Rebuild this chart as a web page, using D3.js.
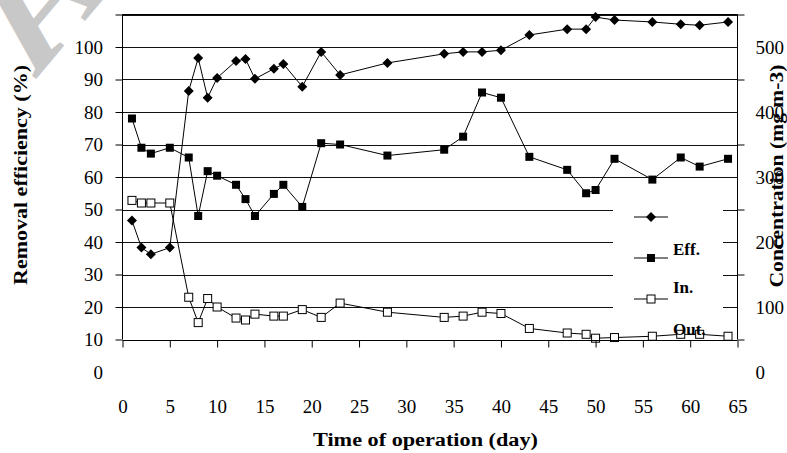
<!DOCTYPE html>
<html>
<head>
<meta charset="utf-8">
<script src="https://cdn.jsdelivr.net/npm/d3@7"></script>
<style>
  body { margin: 0; background: #fff; }
  svg { display: block; }
  text { font-family: "Liberation Serif", "Times New Roman", serif; fill: #000; }
</style>
</head>
<body>
<script>
// ---- data ----
const days = [1,2,3,5,7,8,9,10,12,13,14,16,17,19,21,23,28,34,36,38,40,43,47,49,50,52,56,59,61,64];
const effPct = [46.6,38.3,36.2,38.3,86.5,96.6,84.4,90.5,95.7,96.3,90.2,93.3,94.8,87.8,98.5,91.4,95.1,97.9,98.5,98.5,99.0,103.7,105.5,105.5,109.2,108.3,107.7,107.0,106.7,107.7];
const inConc = [390,345,336,345,330,240,309,302,288,266,240,274,288,254,352,350,333,342,362,430,422,331,311,275,280,328,296,330,316,328];
const outConc = [264,260,260,260,115,76,113,100,83,80,89,86,86,96,84,106,92,84,86,92,90,67,60,58,52,53,55,58,58,55];

const xTicks = [0,5,10,15,20,25,30,35,40,45,50,55,60,65];
const leftTickMarks = [10,20,30,40,50,60,70,80,90,100,110];
const leftLabels = [0,10,20,30,40,50,60,70,80,90,100];
const rightTickMarks = [50,150,250,350,450,550];
const rightLabels = [0,100,200,300,400,500];
const legendLabels = ["Eff.","In.","Out."];

const W = 787, H = 453;
const svg = d3.select("body").append("svg").attr("width", W).attr("height", H);
svg.append("rect").attr("width", W).attr("height", H).attr("fill", "#fff");

// watermark letter (bleed-through, mirrored)
svg.append("text")
  .attr("transform", "translate(105,-3) rotate(-50) scale(-1,1)")
  .attr("font-size", 150).attr("font-weight", "bold")
  .style("fill", "#c8c8c8")
  .text("A");

const x = d3.scaleLinear().domain([0,65]).range([122.5,737.5]);
const yL = d3.scaleLinear().domain([0,110]).range([372,14.5]);
const yR = d3.scaleLinear().domain([0,550]).range([372,14.5]);
const plotTop = yL(110), plotBot = yL(10);

// gridlines
svg.append("g").selectAll("line").data(leftTickMarks.filter(v => v > 10)).join("line")
  .attr("x1", x(0)).attr("x2", x(65))
  .attr("y1", d => Math.round(yL(d)) + 0.5).attr("y2", d => Math.round(yL(d)) + 0.5)
  .attr("stroke", "#111").attr("stroke-width", 1);

// legend background
svg.append("rect").attr("x", 613).attr("y", 195).attr("width", 110).attr("height", 138).attr("fill", "#fff");

// series
const lineL = d3.line().x((d,i) => x(days[i])).y(d => yL(d));
const lineR = d3.line().x((d,i) => x(days[i])).y(d => yR(d));
const diamond = s => `M0,${-s}L${s},0L0,${s}L${-s},0Z`;

svg.append("path").datum(effPct).attr("d", lineL).attr("fill","none").attr("stroke","#000").attr("stroke-width",1);
svg.append("path").datum(inConc).attr("d", lineR).attr("fill","none").attr("stroke","#000").attr("stroke-width",1);
svg.append("path").datum(outConc).attr("d", lineR).attr("fill","none").attr("stroke","#000").attr("stroke-width",1);

svg.append("g").selectAll("path").data(effPct).join("path")
  .attr("transform", (d,i) => `translate(${x(days[i])},${yL(d)})`)
  .attr("d", diamond(5)).attr("fill", "#000");
svg.append("g").selectAll("rect").data(inConc).join("rect")
  .attr("x", (d,i) => x(days[i]) - 4).attr("y", d => yR(d) - 4)
  .attr("width", 8).attr("height", 8).attr("fill", "#000");
svg.append("g").selectAll("rect").data(outConc).join("rect")
  .attr("x", (d,i) => x(days[i]) - 4).attr("y", d => yR(d) - 4)
  .attr("width", 8).attr("height", 8).attr("fill", "#fff").attr("stroke", "#000").attr("stroke-width", 1);

// legend
const lg = svg.append("g");
const legY = [217, 258, 299];
lg.selectAll("line").data(legY).join("line")
  .attr("x1", 634).attr("x2", 668).attr("y1", d => d).attr("y2", d => d)
  .attr("stroke", "#000");
lg.append("path").attr("transform", `translate(651,${legY[0]})`).attr("d", diamond(5)).attr("fill", "#000");
lg.append("rect").attr("x", 647).attr("y", legY[1]-4).attr("width", 8).attr("height", 8).attr("fill", "#000");
lg.append("rect").attr("x", 647).attr("y", legY[2]-4).attr("width", 8).attr("height", 8).attr("fill", "#fff").attr("stroke", "#000");
lg.selectAll("text").data(legendLabels).join("text")
  .attr("x", 673).attr("y", (d,i) => [255, 293, 335][i])
  .attr("font-size", 17).attr("font-weight", "bold").text(d => d);

// frame
svg.append("line").attr("x1", x(0)).attr("x2", x(65)).attr("y1", plotTop).attr("y2", plotTop).attr("stroke", "#000");
svg.append("line").attr("x1", x(65)).attr("x2", x(65)).attr("y1", plotTop).attr("y2", plotBot).attr("stroke", "#000");

// axes
const tickStyle = g => { g.select(".domain").remove(); g.selectAll("line").attr("stroke", "#000"); g.selectAll("text").attr("font-size", 19).attr("font-family", "Liberation Serif, Times New Roman, serif"); };

svg.append("g").attr("transform", `translate(${x(0)},0)`)
  .call(d3.axisLeft(yL).tickValues(leftTickMarks).tickSize(7).tickFormat(""))
  .call(tickStyle);
svg.append("g").attr("transform", `translate(${x(0)},0)`)
  .call(d3.axisLeft(yL).tickValues(leftLabels).tickSize(0).tickPadding(19.5))
  .call(tickStyle);
svg.append("line").attr("x1", x(0)).attr("x2", x(0)).attr("y1", plotTop).attr("y2", plotBot).attr("stroke", "#000");

svg.append("g").attr("transform", `translate(${x(65)},0)`)
  .call(d3.axisRight(yR).tickValues(rightTickMarks).tickSize(7).tickFormat(""))
  .call(tickStyle);
svg.append("g").attr("transform", `translate(${x(65)},0)`)
  .call(d3.axisRight(yR).tickValues(rightLabels).tickSize(0).tickPadding(18))
  .call(tickStyle);

svg.append("g").attr("transform", `translate(0,${Math.round(plotBot)+0.5})`)
  .call(d3.axisBottom(x).tickValues(xTicks).tickSize(7).tickFormat(""))
  .call(tickStyle);
svg.append("g").attr("transform", `translate(0,${Math.round(plotBot)+0.5})`)
  .call(d3.axisBottom(x).tickValues(xTicks).tickSize(0).tickPadding(59.5))
  .call(tickStyle);
svg.append("line").attr("x1", x(0)).attr("x2", x(65)).attr("y1", Math.round(plotBot)+0.5).attr("y2", Math.round(plotBot)+0.5).attr("stroke", "#000");

// axis titles
svg.append("text").attr("x", 425.5).attr("y", 446).attr("text-anchor", "middle")
  .attr("font-size", 18).attr("font-weight", "bold")
  .attr("textLength", 225).attr("lengthAdjust", "spacingAndGlyphs")
  .text("Time of operation (day)");
svg.append("text").attr("transform", "translate(27,175) rotate(-90)").attr("text-anchor", "middle")
  .attr("font-size", 18).attr("font-weight", "bold")
  .attr("textLength", 220).attr("lengthAdjust", "spacingAndGlyphs")
  .text("Removal efficiency (%)");
svg.append("text").attr("transform", "translate(783,176) rotate(-90)").attr("text-anchor", "middle")
  .attr("font-size", 18).attr("font-weight", "bold")
  .attr("textLength", 223).attr("lengthAdjust", "spacingAndGlyphs")
  .text("Concentration (mg m-3)");
</script>
</body>
</html>
